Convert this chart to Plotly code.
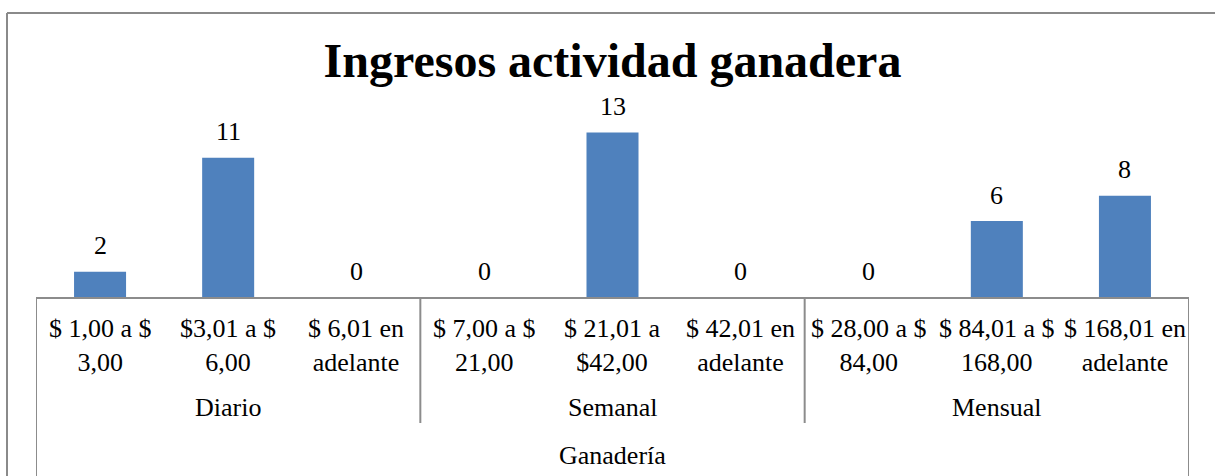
import plotly.graph_objects as go

# ---- data ----
title_text = "Ingresos actividad ganadera"
top_group = "Ganadería"
groups = ["Diario", "Semanal", "Mensual"]
group_sizes = [3, 3, 3]
range_line1 = ["$ 1,00 a $", "$3,01 a $", "$ 6,01 en",
               "$ 7,00 a $", "$ 21,01 a", "$ 42,01 en",
               "$ 28,00 a $", "$ 84,01 a $", "$ 168,01 en"]
range_line2 = ["3,00", "6,00", "adelante",
               "21,00", "$42,00", "adelante",
               "84,00", "168,00", "adelante"]
values = [2, 11, 0, 0, 13, 0, 0, 6, 8]

# ---- layout geometry ----
W, H = 1215, 476
ML, MR, MT, MB = 36, 26, 40, 179
PW, PH = W - ML - MR, H - MT - MB
PX_PER_UNIT = 12.65
FONT = "Liberation Serif, Times New Roman, serif"
AX_COL = "#8c8c8c"


def px_x(px):
    return (px - ML) / PW


def px_y(py):
    return (H - MB - py) / PH


cats = [f"{a} {b}" for a, b in zip(range_line1, range_line2)]

fig = go.Figure()
fig.add_trace(go.Bar(x=cats, y=values, marker=dict(color="#4F81BD", line=dict(width=0)),
                     hoverinfo="skip"))

annotations = []
# value labels
for c, v in zip(cats, values):
    annotations.append(dict(x=c, y=v, xref="x", yref="y", text=str(v), showarrow=False,
                            yanchor="middle", yshift=26, font=dict(size=26, color="black", family=FONT)))
# category labels (two lines each)
for c, l1, l2 in zip(cats, range_line1, range_line2):
    annotations.append(dict(x=c, y=0, xref="x", yref="y", text=f"{l1}<br>{l2}", showarrow=False,
                            yanchor="middle", yshift=-48, font=dict(size=26, color="black", family=FONT)))

shapes = []
# group labels and dividers
start = 0
bounds = [-0.5]
for g, n in zip(groups, group_sizes):
    center = start + (n - 1) / 2
    annotations.append(dict(x=center, y=0, xref="x", yref="y", text=g, showarrow=False,
                            yanchor="middle", yshift=-110, font=dict(size=26, color="black", family=FONT)))
    start += n
    bounds.append(start - 0.5)
for i, b in enumerate(bounds):
    is_end = i == 0 or i == len(bounds) - 1
    shapes.append(dict(type="line", xref="x", yref="paper", x0=b, x1=b,
                       y0=0, y1=px_y(H) if is_end else px_y(423),
                       line=dict(color=AX_COL, width=2)))
annotations.append(dict(x=0.5, y=0, xref="paper", yref="y", text=top_group, showarrow=False,
                        yanchor="middle", yshift=-158, font=dict(size=26, color="black", family=FONT)))

# outer chart border (cropped)
shapes.append(dict(type="line", xref="paper", yref="paper", x0=px_x(7), x1=px_x(W),
                   y0=px_y(13), y1=px_y(13), line=dict(color="#8a8a8a", width=2)))
shapes.append(dict(type="line", xref="paper", yref="paper", x0=px_x(7), x1=px_x(7),
                   y0=px_y(13), y1=px_y(H), line=dict(color="#8a8a8a", width=2)))

fig.update_layout(
    width=W, height=H,
    margin=dict(l=ML, r=MR, t=MT, b=MB),
    paper_bgcolor="white", plot_bgcolor="white",
    showlegend=False,
    bargap=0.594,
    title=dict(text=f"<b>{title_text}</b>", x=0.5, xref="paper", xanchor="center",
               y=1 - 60 / H, yref="container", yanchor="middle",
               font=dict(size=48, color="black", family=FONT)),
    xaxis=dict(type="category", range=[-0.5, len(cats) - 0.5], showticklabels=False,
               showline=True, linecolor=AX_COL, linewidth=2, showgrid=False, zeroline=False,
               ticks=""),
    yaxis=dict(visible=False, range=[0, PH / PX_PER_UNIT], showgrid=False, zeroline=False),
    annotations=annotations,
    shapes=shapes,
)

fig.write_html("out.html", config={"displayModeBar": False},
               post_script="document.body.style.margin='0';document.body.style.padding='0';")
